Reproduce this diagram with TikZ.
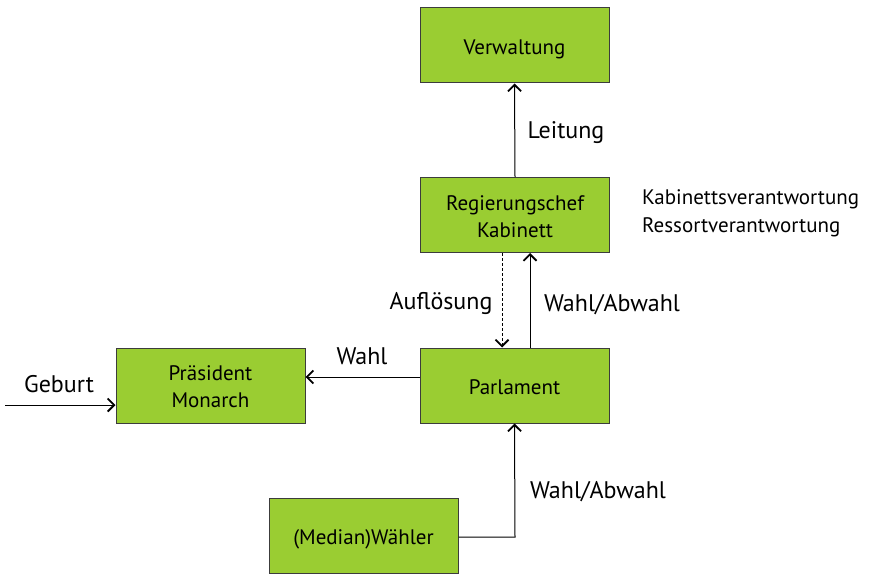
\documentclass[tikz,border=0pt]{standalone}
\usepackage{fontspec}
\setmainfont{PT Sans}
\usetikzlibrary{arrows.meta}
\definecolor{boxgreen}{RGB}{154,205,50}
\definecolor{boxedge}{RGB}{60,60,60}
\newcommand{\bxtext}[1]{\raisebox{-3.5pt}[\height][\depth]{\begin{tabular}{@{}c@{}}#1\end{tabular}}}
\tikzset{
  box/.style={draw=boxedge, line width=1pt, fill=boxgreen, minimum width=189pt, minimum height=75pt, inner sep=0pt, font=\fontsize{21}{27}\selectfont},
  conn/.style={line width=1pt, -{Straight Barb[length=6.5pt,width=13pt,line width=1.8pt]}},
  lbl/.style={font=\fontsize{24}{28}\selectfont, inner sep=0pt, yshift=-3pt},
  side/.style={font=\fontsize{21}{28}\selectfont, inner sep=0pt, align=left, yshift=-3pt}
}
\begin{document}
\begin{tikzpicture}[x=1pt,y=-1pt]
\useasboundingbox (0,0) rectangle (886,583);
\node[box] (verw) at (514.5,45.5) {\bxtext{Verwaltung}};
\node[box] (reg) at (515,215) {\bxtext{Regierungschef\\Kabinett}};
\node[box] (parl) at (514.5,385.5) {\bxtext{Parlament}};
\node[box] (praes) at (210.5,385.5) {\bxtext{Präsident\\Monarch}};
\node[box] (waehl) at (363.5,536) {\bxtext{(Median)Wähler}};
\coordinate (geb) at (5,405);
\coordinate (corner) at (515,537);

\draw[conn] (reg.north) -- (verw.south);
\draw[conn, densely dashed, line width=0.9pt] (reg.south -| 502,0) -- (parl.north -| 502,0);
\draw[conn] (parl.north -| 530,0) -- (reg.south -| 530,0);
\draw[conn] (parl.west |- 0,377) -- (praes.east |- 0,377);
\draw[conn] (geb) -- (praes.west |- geb);
\draw[conn] (waehl.east |- corner) -- (corner) -- (parl.south);

\node[lbl] (l1) at (566,130) {Leitung};
\node[lbl] (l2) at (441,300) {Auflösung};
\node[lbl] (l3) at (612,302) {Wahl/Abwahl};
\node[lbl] (l4) at (362,353) {Wahl};
\node[lbl] (l5) at (59,381) {Geburt};
\node[lbl] (l6) at (598,489) {Wahl/Abwahl};
\node[side, anchor=west] (l7) at (642,210) {Kabinettsverantwortung\\Ressortverantwortung};
\end{tikzpicture}
\end{document}
